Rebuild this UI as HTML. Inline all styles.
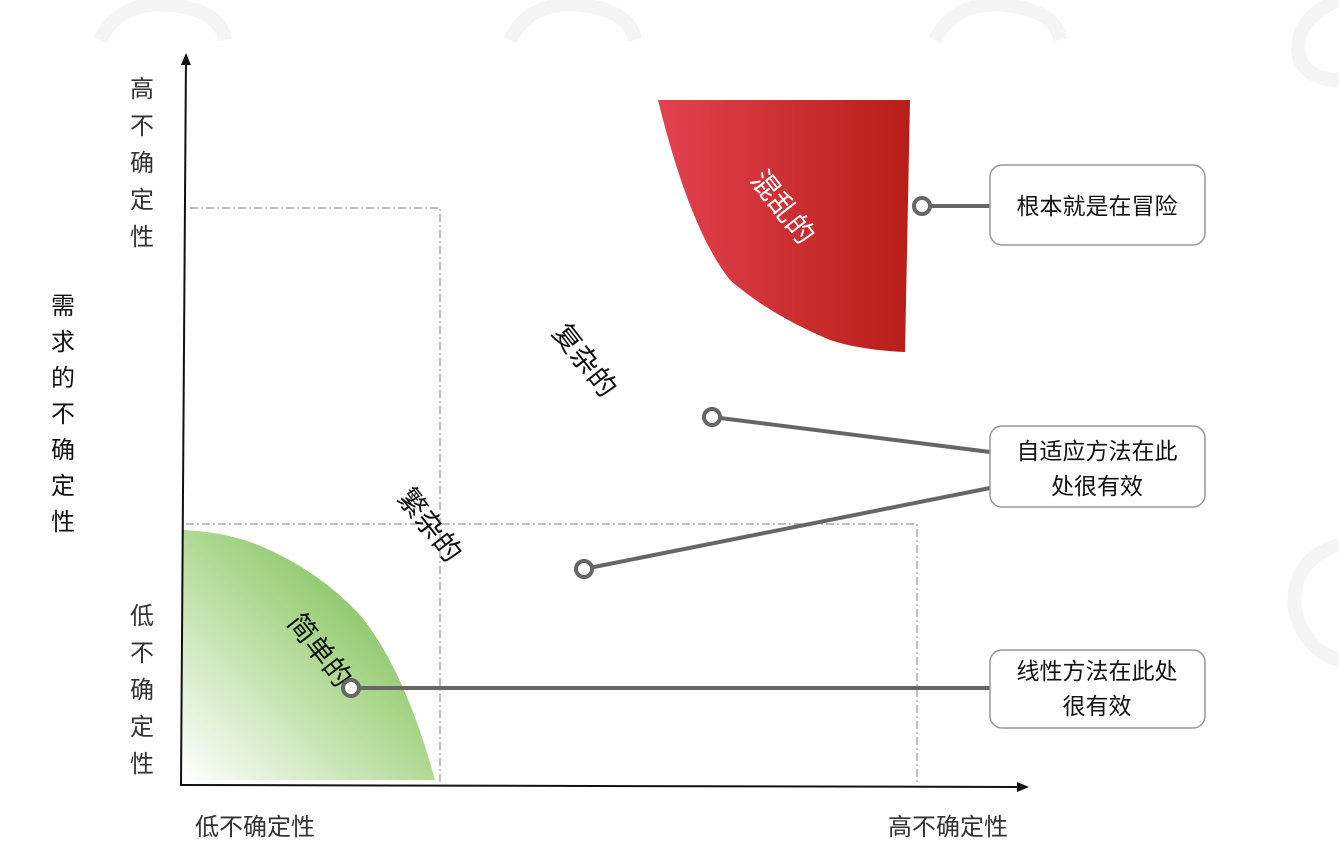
<!DOCTYPE html>
<html><head><meta charset="utf-8">
<style>
html,body{margin:0;padding:0;background:#fff;}
svg{display:block;}
text{font-family:"Liberation Sans","Noto Sans CJK SC",sans-serif;}
</style></head>
<body>
<svg width="1339" height="855" viewBox="0 0 1339 855">
<defs>
<linearGradient id="gg" x1="0" y1="1" x2="1" y2="0">
<stop offset="0" stop-color="#ffffff"/><stop offset="0.55" stop-color="#a9d68a"/><stop offset="1" stop-color="#5fae3a"/>
</linearGradient>
<linearGradient id="rg" x1="0" y1="0" x2="1" y2="0">
<stop offset="0" stop-color="#e2424f"/><stop offset="1" stop-color="#b81e18"/>
</linearGradient>
<marker id="ar" markerWidth="12" markerHeight="12" refX="10" refY="6" orient="auto" markerUnits="userSpaceOnUse">
<path d="M0,1 L12,6 L0,11 z" fill="#111"/></marker>
</defs>

<g fill="none" stroke="#f5f5f5" stroke-width="14">
<path d="M100,40 Q120,0 170,5 Q220,10 225,40"/>
<path d="M510,40 Q530,0 580,5 Q630,10 635,40"/>
<path d="M935,40 Q955,0 1005,5 Q1055,10 1060,40"/>
<path d="M1339,0 Q1290,20 1300,60 Q1310,80 1339,80"/>
<path d="M1339,545 Q1290,560 1295,610 Q1305,650 1339,660"/>
</g>

<g>
<path d="M183,530 Q230,532 265,548 Q320,572 360,615 Q405,670 435,780 L183,780 Z" fill="url(#gg)"/>
</g>
<g>
<path d="M658,100 L910,100 L905,352 Q860,350 830,340 Q770,315 730,280 Q690,230 658,100 Z" fill="url(#rg)"/>
</g>

<g fill="none" stroke="#999" stroke-width="1.2" stroke-dasharray="8,3,2,3">
<path d="M190,208 L440,208 L440,785"/>
<path d="M186,524 L917,524 L917,785"/>
</g>

<line x1="181" y1="785" x2="186" y2="55" stroke="#111" stroke-width="2" marker-end="url(#ar)"/>
<line x1="180" y1="785" x2="1027" y2="787" stroke="#111" stroke-width="2" marker-end="url(#ar)"/>

<g font-size="28" fill="#111" text-anchor="middle">
<text transform="translate(783,207) rotate(52)" fill="#fff" dy="10">混乱的</text>
<text transform="translate(585,360) rotate(52)" dy="10">复杂的</text>
<text transform="translate(430,525) rotate(52)" dy="10">繁杂的</text>
<text transform="translate(320,650) rotate(52)" dy="10">简单的</text>
</g>

<g stroke="#666" stroke-width="4" fill="#fff">
<line x1="922" y1="206" x2="990" y2="206"/>
<line x1="712" y1="417" x2="990" y2="452"/>
<line x1="584" y1="569" x2="990" y2="488"/>
<line x1="351" y1="688" x2="990" y2="688"/>
<circle cx="922" cy="206" r="8"/>
<circle cx="712" cy="417" r="8"/>
<circle cx="584" cy="569" r="8"/>
<circle cx="351" cy="688" r="8"/>
</g>

<g stroke="#999" stroke-width="1.5" fill="#fff">
<rect x="990" y="165" width="215" height="80" rx="12"/>
<rect x="990" y="426" width="215" height="81" rx="12"/>
<rect x="990" y="650" width="215" height="78" rx="12"/>
</g>
<g font-size="23" fill="#111" text-anchor="middle">
<text x="1097" y="214">根本就是在冒险</text>
<text x="1097" y="459">自适应方法在此</text>
<text x="1097" y="494">处很有效</text>
<text x="1097" y="679">线性方法在此处</text>
<text x="1097" y="714">很有效</text>
</g>

<g font-size="24" fill="#333" text-anchor="middle">
<text x="142" y="97">高</text><text x="142" y="134">不</text><text x="142" y="171">确</text><text x="142" y="208">定</text><text x="142" y="245">性</text>
</g>
<g font-size="24" fill="#333" text-anchor="middle">
<text x="142" y="624">低</text><text x="142" y="661">不</text><text x="142" y="698">确</text><text x="142" y="735">定</text><text x="142" y="772">性</text>
</g>
<g font-size="24" fill="#111" text-anchor="middle">
<text x="63" y="314">需</text><text x="63" y="350">求</text><text x="63" y="386">的</text><text x="63" y="422">不</text><text x="63" y="458">确</text><text x="63" y="494">定</text><text x="63" y="530">性</text>
</g>
<text x="255" y="835" font-size="24" fill="#333" text-anchor="middle">低不确定性</text>
<text x="948" y="835" font-size="24" fill="#333" text-anchor="middle">高不确定性</text>
</svg>
</body></html>
